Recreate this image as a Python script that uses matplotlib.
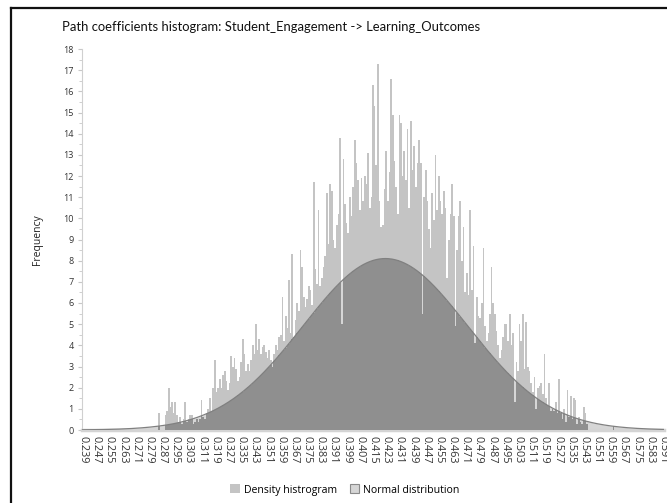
import numpy as np
import matplotlib
matplotlib.use("Agg")
import matplotlib.pyplot as plt
from matplotlib.patches import Patch
from matplotlib.lines import Line2D

plt.rcParams['font.family'] = ['Open Sans', 'DejaVu Sans']

# ---- data ----
bin_start = 0.239
bin_width = 0.001
n_bins = 353
tick_labels = [f"{0.239 + 0.008 * i:.3f}" for i in range(45)]

counts_0_39 = [0.0] * 40
counts_40 = [0, 0, 0, 0, 0, 0, 0.8, 0, 0, 0]
counts_50 = [0.7, 0.9, 2.0, 1.1, 1.3, 0.8, 1.3, 0.7, 0.4, 0.6]
counts_60 = [0.3, 0.5, 1.3, 0.4, 0.5, 0.7, 0.7, 0.3, 0.4, 0.5]
counts_70 = [0.4, 0.5, 1.4, 0.6, 0.5, 0.8, 1.0, 1.5, 0.9, 2.0]
counts_80 = [3.3, 1.8, 2.0, 2.4, 2.0, 2.6, 2.8, 2.3, 1.9, 2.2]
counts_90 = [3.5, 3.0, 3.4, 2.9, 2.3, 2.5, 3.2, 4.3, 3.6, 2.8]
counts_100 = [3.1, 2.8, 3.3, 4.0, 3.6, 5.0, 3.8, 4.3, 3.6, 3.9]
counts_110 = [4.0, 3.7, 3.4, 3.8, 3.3, 3.0, 3.6, 4.0, 3.8, 4.4]
counts_120 = [4.5, 6.3, 4.2, 5.4, 4.8, 7.1, 4.6, 8.3, 4.4, 5.2]
counts_130 = [6.0, 5.6, 8.5, 7.7, 6.3, 5.8, 6.2, 6.8, 6.6, 5.9]
counts_140 = [11.7, 7.6, 6.9, 10.4, 6.8, 7.2, 7.7, 8.2, 11.2, 8.8]
counts_150 = [11.6, 11.3, 9.0, 8.6, 9.7, 10.2, 13.8, 5.0, 12.8, 10.7]
counts_160 = [9.8, 9.3, 11.0, 10.1, 11.5, 13.7, 12.6, 11.8, 10.4, 11.9]
counts_170 = [10.8, 12.0, 11.6, 13.1, 10.5, 11.0, 16.3, 15.3, 12.5, 17.3]
counts_180 = [10.8, 9.6, 9.7, 11.4, 13.2, 10.8, 12.2, 16.6, 14.9, 12.7]
counts_190 = [11.5, 10.2, 14.9, 14.5, 12.0, 13.2, 11.8, 14.2, 10.5, 14.6]
counts_200 = [12.3, 13.4, 11.5, 12.6, 13.7, 12.6, 5.5, 11.0, 12.3, 10.8]
counts_210 = [9.5, 8.6, 11.2, 9.9, 13.0, 10.4, 12.0, 10.8, 10.2, 11.3]
counts_220 = [10.5, 7.2, 9.0, 10.2, 11.6, 10.1, 4.9, 8.5, 10.1, 10.8]
counts_230 = [8.0, 9.6, 6.5, 7.4, 6.4, 10.4, 6.6, 8.7, 4.1, 6.3]
counts_240 = [5.4, 5.3, 6.0, 8.6, 4.9, 4.2, 4.6, 5.5, 7.7, 6.0]
counts_250 = [5.5, 4.7, 4.0, 3.4, 3.8, 4.4, 5.0, 5.0, 4.2, 5.5]
counts_260 = [4.0, 4.6, 1.3, 3.2, 2.8, 5.0, 4.2, 5.5, 2.9, 5.1]
counts_270 = [3.0, 2.8, 2.2, 1.8, 2.5, 1.0, 2.0, 2.1, 2.2, 1.7]
counts_280 = [3.6, 1.5, 1.2, 2.2, 0.9, 1.0, 0.9, 1.3, 0.8, 2.4]
counts_290 = [0.8, 0.5, 1.0, 0.4, 1.9, 0.6, 1.6, 0.5, 1.5, 1.4]
counts_300 = [0.3, 0.6, 0.4, 0.3, 1.1, 0.8, 0.3, 0, 0, 0]
counts_310_352 = [0.0] * 12 + [0.2] + [0.0] * 30

counts = np.array(counts_0_39 + counts_40 + counts_50 + counts_60 + counts_70 +
                  counts_80 + counts_90 + counts_100 + counts_110 + counts_120 +
                  counts_130 + counts_140 + counts_150 + counts_160 + counts_170 +
                  counts_180 + counts_190 + counts_200 + counts_210 + counts_220 +
                  counts_230 + counts_240 + counts_250 + counts_260 + counts_270 +
                  counts_280 + counts_290 + counts_300 + counts_310_352)

normal_mean = 0.4225
normal_sd = 0.050
normal_peak = 8.1

# ---- figure ----
W, H = 667, 503
fig = plt.figure(figsize=(W / 100, H / 100), dpi=100)
ax = fig.add_axes([82.2 / W, (H - 430) / H, 581.6 / W, 381 / H])

idx = np.arange(len(counts))
xc = bin_start + idx * bin_width
xs = np.linspace(-0.5, len(counts) - 0.5, 1500)
xv = bin_start + xs * bin_width
curve = normal_peak * np.exp(-0.5 * ((xv - normal_mean) / normal_sd) ** 2)
curve_bins = normal_peak * np.exp(-0.5 * ((xc - normal_mean) / normal_sd) ** 2)

fill_col = '#d6d6d6'
bar_col = '#c4c4c4'
dark_col = '#8f8f8f'

ax.fill_between(xs, 0, curve, color=fill_col, lw=0, zorder=1)
ax.bar(idx, counts, width=1.0, color=bar_col, linewidth=0, zorder=2)
ax.bar(idx, np.minimum(counts, curve_bins), width=1.0, color=dark_col, linewidth=0, zorder=3)
ax.plot(xs, curve, color='#808080', lw=0.9, zorder=4)

ax.set_xlim(-0.5, len(counts) - 0.5)
ax.set_ylim(0, 18)
ax.set_xticks(np.arange(0, len(counts), 8))
ax.set_xticklabels(tick_labels, rotation=270, fontsize=7.8, color='#333333')
ax.set_yticks(np.arange(0, 19, 1))
ax.set_yticks(np.arange(0.5, 18, 1), minor=True)
ax.set_yticklabels([str(i) for i in range(19)], fontsize=6.5, color='#333333')
ax.tick_params(axis='y', which='major', length=3, color='#c8c8c8', pad=3)
ax.tick_params(axis='y', which='minor', length=2, color='#c8c8c8')
ax.tick_params(axis='x', length=0, pad=4)
for s in ['top', 'right']:
    ax.spines[s].set_visible(False)
ax.spines['left'].set_color('#d0d0d0')
ax.spines['left'].set_linewidth(0.8)
ax.spines['bottom'].set_color('#d4d4d4')
ax.spines['bottom'].set_linewidth(2.5)

ax.set_ylabel('Frequency', fontsize=7.5, color='#222222', labelpad=15)

fig.text(271 / W, 1 - 27 / H,
         'Path coefficients histogram: Student_Engagement -> Learning_Outcomes',
         ha='center', va='center', fontsize=9.4, color='#111111',
         family=['Lato', 'DejaVu Sans'])

handles = [Patch(facecolor='#c4c4c4', edgecolor='none', label='Density histrogram'),
           Patch(facecolor='#d6d6d6', edgecolor='#8a8a8a', linewidth=0.8, label='Normal distribution')]
fig.legend(handles=handles, loc='center', bbox_to_anchor=(345 / W, 1 - 490 / H),
           ncol=2, frameon=False, fontsize=7.6, handlelength=0.9, handleheight=0.9,
           handletextpad=0.4, columnspacing=1.2)

# outer frame lines (left and top)
fig.add_artist(Line2D([11 / W, 11 / W], [0, 1 - 8 / H], transform=fig.transFigure,
                      color='#111111', lw=1.6))
fig.add_artist(Line2D([11 / W, 1], [1 - 8 / H, 1 - 8 / H], transform=fig.transFigure,
                      color='#111111', lw=1.6))

fig.savefig('out.png', dpi=100)
